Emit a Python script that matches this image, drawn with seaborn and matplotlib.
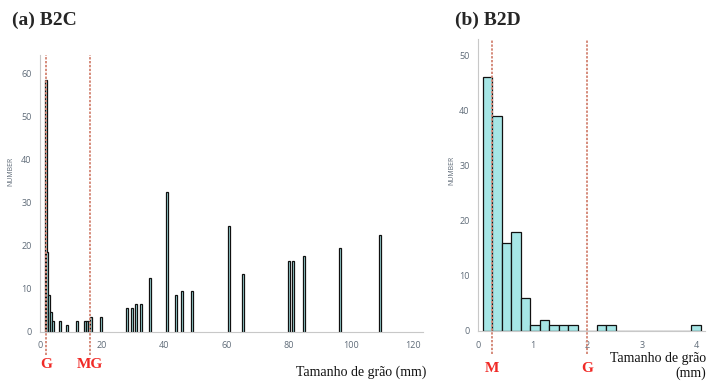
import numpy as np
import pandas as pd
import seaborn as sns
import matplotlib.pyplot as plt

# B2C: grain size (mm) and count of each bar
b2c_size = [1.9, 2.3, 2.9, 3.5, 4.2, 6.4, 8.7, 11.9, 14.5, 15.1, 15.8, 16.4, 19.6,
            28.0, 29.6, 31.0, 32.5, 35.4, 40.9, 43.8, 45.7, 48.9, 60.8, 65.3,
            80.1, 81.4, 84.9, 96.5, 109.4]
b2c_count = [58.4, 18.5, 8.5, 4.5, 2.5, 2.5, 1.5, 2.5, 2.5, 2.5, 2.5, 3.5, 3.5,
             5.5, 5.5, 6.5, 6.5, 12.5, 32.5, 8.5, 9.5, 9.5, 24.5, 13.5,
             16.5, 16.5, 17.5, 19.5, 22.5]
b2c_limits = {"G": 2, "MG": 16}

# B2D: histogram bin centres (mm) and counts
b2d_size = [0.17, 0.35, 0.52, 0.69, 0.87, 1.04, 1.21, 1.39, 1.56, 1.73, 2.26, 2.43, 3.99]
b2d_count = [46, 39, 16, 18, 6, 1, 2, 1, 1, 1, 1, 1, 1]
b2d_limits = {"M": 0.25, "G": 2}

SERIF = ["Liberation Serif", "DejaVu Serif"]
TEAL = "#a6e6e6"
DASH = "#d58b7b"
LABEL_RED = "#f02a26"
TICK_GREY = "#5f6b78"


def style_axes(ax):
    sns.despine(ax=ax)
    for s in ("left", "bottom"):
        ax.spines[s].set_color("#c8c8c8")
        ax.spines[s].set_linewidth(0.8)
    ax.tick_params(length=0, labelsize=6.5, labelcolor=TICK_GREY)
    ax.tick_params(axis="y", pad=6)
    ax.tick_params(axis="x", pad=7)
    ax.set_xlabel("")
    ax.set_ylabel("NUMBER", fontsize=5, color=TICK_GREY)
    ax.grid(False)


def limit_lines(ax, limits, ybottom, ytext):
    for name, x in limits.items():
        ax.axvline(x, ymin=ybottom, ymax=1.0, color=DASH, lw=1.4,
                   ls=(0, (1.2, 0.8)), clip_on=False)
        ax.text(x, ytext, name, transform=ax.get_xaxis_transform(),
                ha="center", va="center", color=LABEL_RED, fontsize=11,
                fontweight="bold", family=SERIF)


def main():
    sns.set_theme(style="white")
    plt.rcParams["font.family"] = ["Open Sans", "DejaVu Sans"]

    fig = plt.figure(figsize=(7.08, 3.81), dpi=100)
    ax1 = fig.add_axes([40 / 708, 49.3 / 381, 383 / 708, 276.7 / 381])
    ax2 = fig.add_axes([478 / 708, 50 / 381, 227 / 708, 292 / 381])

    # (a) B2C
    df_a = pd.DataFrame({"size": b2c_size, "count": b2c_count})
    sns.barplot(data=df_a, x="size", y="count", native_scale=True,
                width=1.6, color=TEAL, edgecolor="#111111", linewidth=0.9,
                saturation=1, errorbar=None, ax=ax1)
    ax1.set_xlim(0, 123.2)
    ax1.set_ylim(0, 64.2)
    ax1.set_xticks(range(0, 121, 20))
    ax1.set_yticks(range(0, 61, 10))
    style_axes(ax1)
    ax1.yaxis.set_label_coords(-0.066, 0.58)
    limit_lines(ax1, b2c_limits, -0.085, -0.118)

    # (b) B2D
    df_b = pd.DataFrame({"size": b2d_size, "count": b2d_count})
    bin_edges = list(np.arange(0.086, 4.2, 0.1735))
    sns.histplot(data=df_b, x="size", weights="count",
                 bins=bin_edges, color=TEAL, alpha=1,
                 edgecolor="#111111", linewidth=0.9, ax=ax2)
    ax2.set_xlim(0, 4.15)
    ax2.set_ylim(0, 52.9)
    ax2.set_xticks(range(0, 5))
    ax2.set_yticks(range(0, 51, 10))
    style_axes(ax2)
    ax2.yaxis.set_label_coords(-0.1, 0.55)
    limit_lines(ax2, b2d_limits, -0.08, -0.13)

    fig.text(12 / 708, 1 - 20 / 381, "(a) B2C", fontsize=14, fontweight="bold",
             family=SERIF, color="#262626", va="center", ha="left")
    fig.text(455 / 708, 1 - 20 / 381, "(b) B2D", fontsize=14, fontweight="bold",
             family=SERIF, color="#262626", va="center", ha="left")
    fig.text(361 / 708, 1 - 372 / 381, "Tamanho de grão (mm)", fontsize=10,
             family=SERIF, color="#111111", ha="center", va="center")
    fig.text(706 / 708, 1 - 366 / 381, "Tamanho de grão\n(mm)", fontsize=10,
             family=SERIF, color="#111111", ha="right", va="center",
             multialignment="right", linespacing=1.1)

    fig.savefig("out.png", dpi=100)


if __name__ == "__main__":
    main()
